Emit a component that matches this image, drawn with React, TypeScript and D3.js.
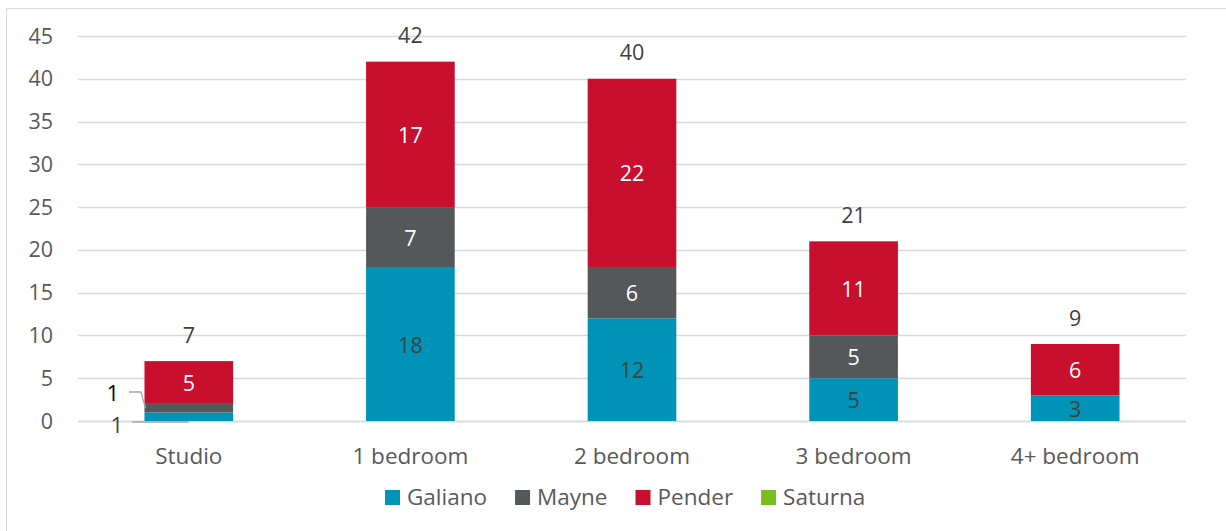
import React, { useEffect, useRef } from "react";
import * as d3 from "d3";

const categories = ["Studio", "1 bedroom", "2 bedroom", "3 bedroom", "4+ bedroom"];
const seriesNames = ["Galiano", "Mayne", "Pender", "Saturna"];
const galiano = [1, 18, 12, 5, 3];
const mayne = [1, 7, 6, 5, 0];
const pender = [5, 17, 22, 11, 6];
const saturna = [0, 0, 0, 0, 0];
const yTicks = [0, 5, 10, 15, 20, 25, 30, 35, 40, 45];
const colors = ["#0093B8", "#54585A", "#C8102E", "#78BE20"];
const labelColors = ["#404040", "#FFFFFF", "#FFFFFF", "#404040"];

const W = 1226;
const H = 531;
const FONT = "'Open Sans', sans-serif";

export default function App() {
  const ref = useRef<SVGSVGElement>(null);

  useEffect(() => {
    const svg = d3.select(ref.current);
    svg.selectAll("*").remove();

    const margin = { left: 78, right: 40, top: 36, bottom: 110 };
    const x = d3
      .scaleBand<string>()
      .domain(categories)
      .range([margin.left, W - margin.right])
      .paddingInner(0.6)
      .paddingOuter(0.3);
    const y = d3.scaleLinear().domain([0, 45]).range([H - margin.bottom, margin.top]);

    // outer border
    svg
      .append("rect")
      .attr("x", 6.5)
      .attr("y", 8.5)
      .attr("width", W)
      .attr("height", H)
      .attr("fill", "white")
      .attr("stroke", "#d9d9d9");

    // gridlines
    svg
      .append("g")
      .selectAll("line")
      .data(yTicks)
      .join("line")
      .attr("x1", margin.left)
      .attr("x2", W - margin.right)
      .attr("y1", (d) => Math.round(y(d)) + 0.5)
      .attr("y2", (d) => Math.round(y(d)) + 0.5)
      .attr("stroke", "#d9d9d9")
      .attr("stroke-width", 1.3);

    // y tick labels
    svg
      .append("g")
      .selectAll("text")
      .data(yTicks)
      .join("text")
      .attr("x", 53)
      .attr("y", (d) => y(d))
      .attr("dy", "0.35em")
      .attr("text-anchor", "end")
      .attr("font-family", FONT)
      .attr("font-size", 21.5)
      .attr("fill", "#595959")
      .text((d) => d);

    // axis line
    svg
      .append("line")
      .attr("x1", margin.left)
      .attr("x2", W - margin.right)
      .attr("y1", Math.round(y(0)) + 0.5)
      .attr("y2", Math.round(y(0)) + 0.5)
      .attr("stroke", "#d9d9d9")
      .attr("stroke-width", 1.3);

    const data = categories.map((c, i) => ({
      cat: c,
      values: [galiano[i], mayne[i], pender[i], saturna[i]],
    }));
    const stack = d3
      .stack<any>()
      .keys(seriesNames)
      .value((d: any, key: string) => d.values[seriesNames.indexOf(key)]);
    const stacked = stack(data);

    const bw = x.bandwidth();

    stacked.forEach((layer, si) => {
      const g = svg.append("g");
      g.selectAll("rect")
        .data(layer)
        .join("rect")
        .attr("x", (d: any) => x(d.data.cat)!)
        .attr("width", bw)
        .attr("y", (d) => y(d[1]))
        .attr("height", (d) => y(d[0]) - y(d[1]))
        .attr("fill", colors[si]);
    });

    // segment labels
    stacked.forEach((layer, si) => {
      layer.forEach((d: any) => {
        const v = d[1] - d[0];
        if (v <= 0) return;
        const cx = x(d.data.cat)! + bw / 2;
        const cy = (y(d[0]) + y(d[1])) / 2;
        if (v < 2) {
          // leader label to the left
          const isTop = si === 1;
          const tx = isTop ? 113 : 117;
          const ty = isTop ? 393 : 425;
          svg
            .append("text")
            .attr("x", tx)
            .attr("y", ty)
            .attr("dy", "0.35em")
            .attr("text-anchor", "middle")
            .attr("font-family", FONT)
            .attr("font-size", 21.5)
            .attr("fill", isTop ? "#000000" : "#404040")
            .text(v);
          const pts: [number, number][] = isTop
            ? [
                [tx + 16, 392],
                [tx + 28, 392],
                [x(d.data.cat)! + 1, cy],
              ]
            : [
                [tx + 15, 422],
                [cx, 422],
              ];
          svg
            .append("path")
            .attr("d", d3.line()(pts)!)
            .attr("fill", "none")
            .attr("stroke", "#a6a6a6")
            .attr("stroke-width", 1.3);
          return;
        }
        svg
          .append("text")
          .attr("x", cx)
          .attr("y", cy + 1)
          .attr("dy", "0.35em")
          .attr("text-anchor", "middle")
          .attr("font-family", FONT)
          .attr("font-size", 21.5)
          .attr("fill", labelColors[si])
          .text(v);
      });
    });

    // totals
    data.forEach((d) => {
      const total = d3.sum(d.values);
      svg
        .append("text")
        .attr("x", x(d.cat)! + bw / 2)
        .attr("y", y(total) - 26)
        .attr("dy", "0.35em")
        .attr("text-anchor", "middle")
        .attr("font-family", FONT)
        .attr("font-size", 21.5)
        .attr("fill", "#404040")
        .text(total);
    });

    // category labels
    svg
      .append("g")
      .selectAll("text")
      .data(categories)
      .join("text")
      .attr("x", (d) => x(d)! + bw / 2)
      .attr("y", 456)
      .attr("dy", "0.35em")
      .attr("text-anchor", "middle")
      .attr("font-family", FONT)
      .attr("font-size", 22.5)
      .attr("fill", "#595959")
      .text((d) => d);

    // legend
    const lg = svg.append("g");
    let lx = 385;
    seriesNames.forEach((name, i) => {
      lg.append("rect")
        .attr("x", lx)
        .attr("y", 490)
        .attr("width", 15)
        .attr("height", 15)
        .attr("fill", colors[i]);
      const t = lg
        .append("text")
        .attr("x", lx + 22)
        .attr("y", 497.5)
        .attr("dy", "0.35em")
        .attr("font-family", FONT)
        .attr("font-size", 22.5)
        .attr("fill", "#595959")
        .text(name);
      const tw = (t.node() as SVGTextElement).getComputedTextLength();
      lx += 22 + tw + 28;
    });
  }, []);

  return (
    <svg
      ref={ref}
      width={W}
      height={H}
      style={{ position: "absolute", left: 0, top: 0, background: "white" }}
    />
  );
}
